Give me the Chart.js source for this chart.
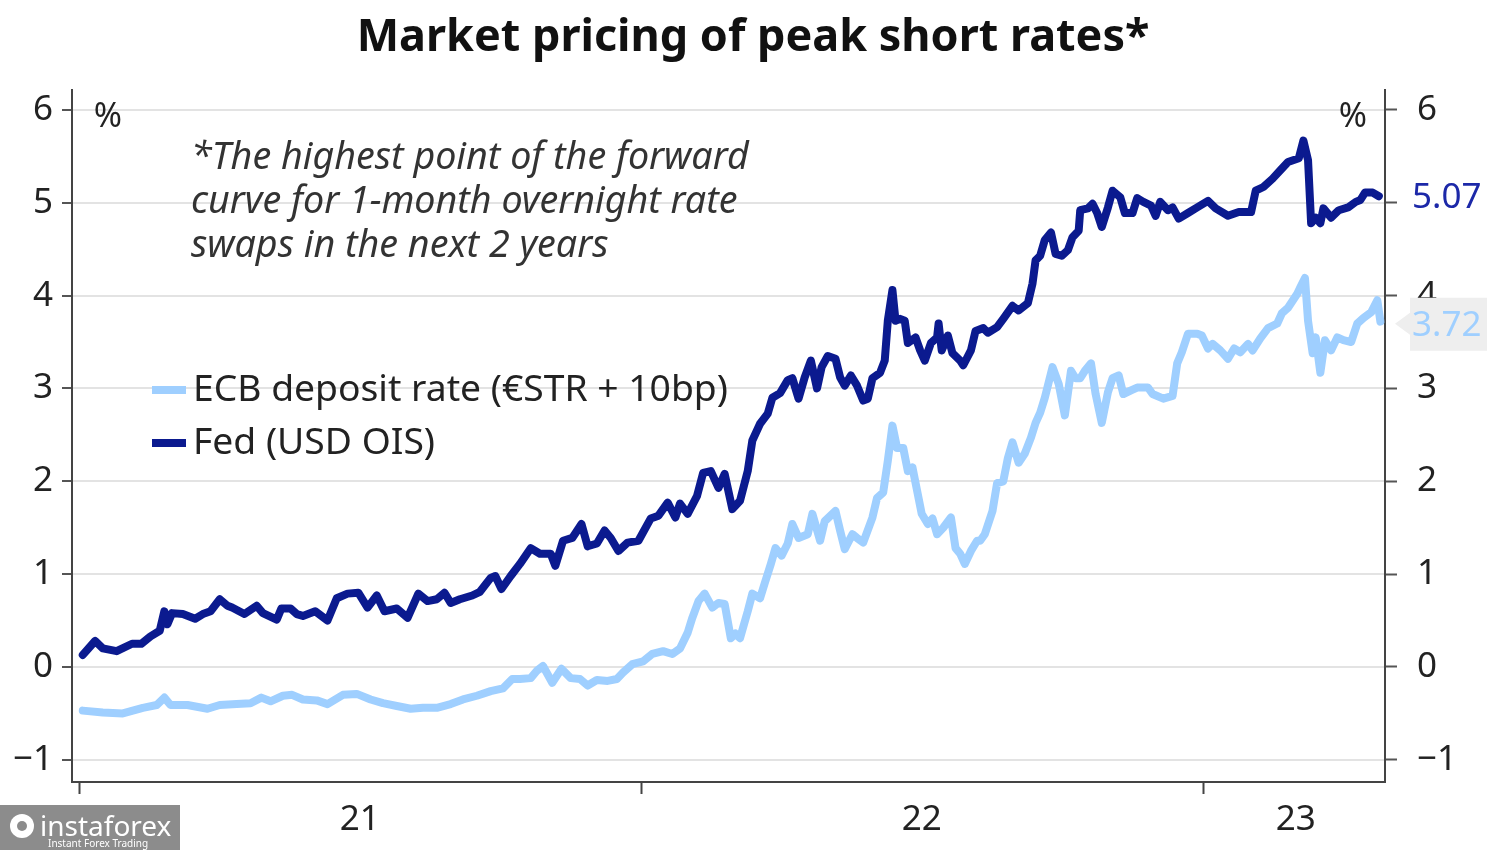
<!DOCTYPE html>
<html><head><meta charset="utf-8">
<script src="https://cdn.jsdelivr.net/npm/chart.js@4.4.0/dist/chart.umd.min.js"></script>
<style>html,body{margin:0;padding:0;background:#fff;}#wrap{width:1500px;height:850px;}</style>
</head><body><div id="wrap"><canvas id="c" width="1500" height="850"></canvas></div>
<script>
const chartTitle = 'Market pricing of peak short rates*';
const noteLines = ['*The highest point of the forward', 'curve for 1-month overnight rate', 'swaps in the next 2 years'];
const seriesNames = ['ECB deposit rate (\u20ACSTR + 10bp)', 'Fed (USD OIS)'];
const unitLabel = '%';

// x values: days since 1 Jan 2021
const fedDays = [2,10,15,24,34,40,46,52,55,57,60,67,75,80,85,91,96,99,107,115,119,128,131,137,141,145,153,161,167,174,181,187,193,198,206,213,220,226,232,237,241,247,255,260,267,270,274,280,286,293,299,306,309,314,320,326,330,336,341,345,350,356,363,371,376,382,387,390,395,401,405,410,415,419,424,429,434,437,442,447,450,455,460,463,467,471,475,479,482,486,491,494,497,501,505,509,512,515,520,523,525,528,530,533,536,538,543,546,549,553,557,558,560,564,567,572,574,579,582,587,590,596,600,606,610,616,619,621,624,627,631,634,638,642,645,649,650,655,658,661,664,668,671,676,679,684,687,691,696,699,702,707,710,714,720,726,733,738,746,753,761,764,769,775,780,785,792,795,798,800,803,806,808,813,818,824,829,832,835,840,844];
const fedRates = [0.13,0.28,0.20,0.17,0.25,0.25,0.33,0.39,0.60,0.46,0.58,0.57,0.52,0.57,0.60,0.73,0.66,0.64,0.57,0.66,0.58,0.51,0.63,0.63,0.57,0.55,0.60,0.50,0.74,0.79,0.80,0.64,0.77,0.60,0.63,0.53,0.79,0.71,0.73,0.80,0.69,0.73,0.77,0.81,0.96,0.98,0.84,0.98,1.11,1.28,1.22,1.22,1.09,1.36,1.39,1.54,1.30,1.33,1.47,1.39,1.25,1.34,1.36,1.60,1.63,1.77,1.61,1.76,1.65,1.84,2.09,2.11,1.93,2.08,1.70,1.79,2.11,2.44,2.62,2.73,2.90,2.95,3.09,3.11,2.89,3.12,3.30,3.00,3.23,3.35,3.32,3.12,3.03,3.14,3.03,2.87,2.89,3.11,3.17,3.30,3.73,4.06,3.73,3.75,3.73,3.49,3.55,3.41,3.30,3.49,3.55,3.70,3.41,3.57,3.38,3.30,3.25,3.41,3.62,3.65,3.60,3.66,3.75,3.89,3.84,3.92,4.13,4.38,4.43,4.60,4.68,4.45,4.43,4.49,4.63,4.70,4.92,4.94,4.99,4.89,4.74,4.95,5.13,5.06,4.89,4.89,5.05,5.01,4.97,4.86,5.01,4.92,4.95,4.83,4.89,4.95,5.02,4.94,4.86,4.90,4.90,5.13,5.17,5.26,5.35,5.44,5.48,5.67,5.46,4.78,4.84,4.78,4.94,4.84,4.92,4.95,5.01,5.03,5.11,5.11,5.07];

const ecbDays = [2,15,28,41,50,55,59,70,83,91,102,111,118,124,132,138,145,154,161,171,180,189,197,206,215,223,232,241,249,258,267,275,281,286,293,297,301,307,313,319,325,330,336,343,349,353,359,366,372,379,385,390,395,398,402,406,411,415,419,423,426,429,434,437,442,445,449,452,456,460,463,467,473,476,481,484,491,494,497,502,505,509,515,518,522,525,528,531,535,538,541,544,547,551,554,557,561,566,569,572,575,579,583,585,588,593,596,600,603,606,610,614,618,621,624,627,632,636,640,644,647,650,653,657,660,664,668,671,675,678,683,687,694,697,704,710,713,716,720,726,729,733,736,741,746,750,754,759,762,767,772,778,781,785,791,793,796,798,801,803,806,809,813,817,821,826,830,834,839,843,845];
const ecbRates = [-0.47,-0.49,-0.50,-0.44,-0.41,-0.33,-0.41,-0.41,-0.45,-0.41,-0.40,-0.39,-0.33,-0.37,-0.31,-0.30,-0.35,-0.36,-0.40,-0.30,-0.29,-0.35,-0.39,-0.42,-0.45,-0.44,-0.44,-0.40,-0.35,-0.31,-0.26,-0.23,-0.13,-0.13,-0.12,-0.04,0.01,-0.17,-0.02,-0.12,-0.13,-0.20,-0.14,-0.15,-0.13,-0.06,0.03,0.06,0.14,0.17,0.14,0.20,0.37,0.53,0.71,0.79,0.64,0.69,0.68,0.31,0.36,0.31,0.60,0.79,0.74,0.90,1.11,1.28,1.20,1.33,1.54,1.39,1.43,1.65,1.36,1.57,1.68,1.47,1.27,1.43,1.39,1.34,1.61,1.82,1.88,2.22,2.60,2.36,2.36,2.11,2.15,1.90,1.65,1.54,1.60,1.43,1.50,1.61,1.28,1.22,1.11,1.25,1.36,1.36,1.43,1.68,1.98,2.00,2.25,2.42,2.20,2.30,2.47,2.63,2.74,2.90,3.23,3.05,2.71,3.19,3.11,3.11,3.19,3.27,2.94,2.63,2.96,3.11,3.14,2.94,2.98,3.01,3.01,2.94,2.89,2.92,3.27,3.39,3.59,3.59,3.57,3.43,3.48,3.41,3.32,3.43,3.39,3.48,3.41,3.54,3.65,3.70,3.81,3.87,4.02,4.09,4.19,3.73,3.38,3.55,3.17,3.52,3.41,3.55,3.52,3.50,3.70,3.76,3.82,3.95,3.72];

const yTicks = [-1, 0, 1, 2, 3, 4, 5, 6];
const yearStartDays = [0, 365, 730];
const yearLabelDays = [182, 547, 790];
const yearLabels = ['21', '22', '23'];
const lastLabels = ['3.72', '5.07'];

const FED = '#0b1a8f';
const ECB = '#9fcfff';
const FONT = '"Noto Sans", "Open Sans", sans-serif';
const TEXT = '#222222';

const labelMap = {};
yearLabelDays.forEach((d, i) => { labelMap[d] = yearLabels[i]; });
const fmtY = v => v < 0 ? '\u2212' + Math.abs(v) : String(v);

function fitSize(ctx, text, style, weight, width) {
  ctx.font = `${style} ${weight} 100px ${FONT}`;
  return 100 * width / ctx.measureText(text).width;
}

const decor = {
  id: 'decor',
  afterDraw(chart) {
    const ctx = chart.ctx;
    const y2 = chart.scales.y2;
    ctx.save();
    // title
    let s = fitSize(ctx, chartTitle, 'normal', 'bold', 793);
    ctx.font = `normal bold ${s}px ${FONT}`;
    ctx.fillStyle = '#111';
    ctx.textAlign = 'center'; ctx.textBaseline = 'middle';
    ctx.fillText(chartTitle, 753, 38);
    // note
    s = fitSize(ctx, noteLines[0], 'italic', 'normal', 558);
    ctx.font = `italic normal ${s}px ${FONT}`;
    ctx.fillStyle = '#333';
    ctx.textAlign = 'left';
    noteLines.forEach((t, i) => ctx.fillText(t, 191, 158 + i * 44));
    // percent labels
    ctx.font = `normal 34px ${FONT}`;
    ctx.fillStyle = TEXT;
    ctx.textAlign = 'center';
    ctx.fillText(unitLabel, 108, 117);
    ctx.fillText(unitLabel, 1353, 117);
    // legend
    s = fitSize(ctx, seriesNames[0], 'normal', 'normal', 535);
    ctx.font = `normal normal ${s}px ${FONT}`;
    ctx.textAlign = 'left';
    chart.data.datasets.forEach((ds, i) => {
      const yy = 390 + i * 53;
      ctx.strokeStyle = ds.borderColor; ctx.lineWidth = 8; ctx.lineCap = 'butt';
      ctx.beginPath(); ctx.moveTo(152, yy); ctx.lineTo(186, yy); ctx.stroke();
      ctx.fillStyle = TEXT;
      ctx.fillText(ds.label, 193, yy);
    });
    // end labels
    const fedY = y2.getPixelForValue(fedRates[fedRates.length - 1]);
    ctx.fillStyle = '#fff';
    ctx.fillRect(1404, fedY - 19, 96, 38);
    ctx.font = `normal 35px ${FONT}`;
    ctx.fillStyle = '#1c28a8';
    ctx.fillText(lastLabels[1], 1412, fedY + 2);
    const ecbY = y2.getPixelForValue(ecbRates[ecbRates.length - 1]);
    ctx.fillStyle = '#eeeeee';
    ctx.beginPath();
    ctx.moveTo(1395, ecbY + 2);
    ctx.lineTo(1410, ecbY - 9);
    ctx.lineTo(1410, ecbY - 24);
    ctx.lineTo(1487, ecbY - 24);
    ctx.lineTo(1487, ecbY + 29);
    ctx.lineTo(1410, ecbY + 29);
    ctx.lineTo(1410, ecbY + 13);
    ctx.closePath(); ctx.fill();
    ctx.fillStyle = ECB;
    ctx.fillText(lastLabels[0], 1412, ecbY + 4);
    // watermark
    ctx.fillStyle = '#8c8c8c';
    ctx.fillRect(0, 805, 180, 45);
    ctx.fillStyle = '#fff';
    ctx.beginPath(); ctx.arc(22, 826, 12, 0, Math.PI * 2); ctx.fill();
    ctx.fillStyle = '#8c8c8c';
    ctx.beginPath(); ctx.arc(22, 826, 5, 0, Math.PI * 2); ctx.fill();
    ctx.fillStyle = '#fff';
    ctx.font = `normal 28px ${FONT}`;
    ctx.textAlign = 'left'; ctx.textBaseline = 'alphabetic';
    ctx.fillText('instaforex', 40, 836);
    ctx.font = `normal 10px ${FONT}`;
    ctx.fillText('Instant Forex Trading', 48, 847);
    ctx.restore();
  }
};

const yScaleBase = {
  min: -1.239, max: 6.215,
  afterBuildTicks: s => { s.ticks = yTicks.map(v => ({ value: v })); },
  border: { color: '#444', width: 2 }
};

new Chart(document.getElementById('c').getContext('2d'), {
  type: 'line',
  data: {
    datasets: [
      { label: seriesNames[0], data: ecbDays.map((d, i) => ({ x: d, y: ecbRates[i] })), borderColor: ECB, borderWidth: 8, pointRadius: 0, tension: 0, borderJoinStyle: 'round', borderCapStyle: 'round', yAxisID: 'y' },
      { label: seriesNames[1], data: fedDays.map((d, i) => ({ x: d, y: fedRates[i] })), borderColor: FED, borderWidth: 8, pointRadius: 0, tension: 0, borderJoinStyle: 'round', borderCapStyle: 'round', yAxisID: 'y' }
    ]
  },
  options: {
    responsive: false, animation: false, devicePixelRatio: 1,
    layout: { padding: { top: 90, left: 0, right: 0, bottom: 0 } },
    plugins: { legend: { display: false }, title: { display: false }, tooltip: { enabled: false } },
    scales: {
      x: {
        type: 'linear', min: -5, max: 848,
        afterBuildTicks: s => { s.ticks = [...yearStartDays, ...yearLabelDays].sort((a, b) => a - b).map(v => ({ value: v })); },
        afterFit: s => { s.height = 68; },
        ticks: { autoSkip: false, maxRotation: 0, padding: 5, color: TEXT, font: { family: FONT, size: 35 }, callback: v => labelMap[v] ?? '' },
        grid: { drawOnChartArea: false, tickLength: 12, tickWidth: 2, tickColor: c => (c.tick && yearStartDays.includes(c.tick.value)) ? '#444' : 'rgba(0,0,0,0)' },
        border: { color: '#444', width: 2 }
      },
      y: Object.assign({}, yScaleBase, {
        position: 'left',
        afterFit: s => { s.width = 72; },
        ticks: { padding: 9, color: TEXT, font: { family: FONT, size: 35 }, callback: fmtY },
        grid: { color: '#e3e3e3', lineWidth: 2, tickLength: 10, tickColor: '#555', tickWidth: 2 }
      }),
      y2: Object.assign({}, yScaleBase, {
        position: 'right',
        afterFit: s => { s.width = 115; },
        ticks: { padding: 20, color: TEXT, font: { family: FONT, size: 35 }, callback: fmtY },
        grid: { drawOnChartArea: false, tickLength: 12, tickColor: '#555', tickWidth: 2 }
      })
    }
  },
  plugins: [decor]
});
</script></body></html>
